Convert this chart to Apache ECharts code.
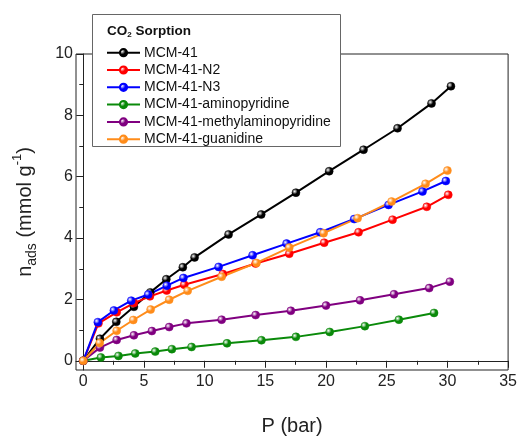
<!DOCTYPE html>
<html>
<head>
<meta charset="utf-8">
<script src="https://cdn.jsdelivr.net/npm/echarts@6/dist/echarts.min.js"></script>
<style>html,body{margin:0;padding:0;background:#fff}#c{width:520px;height:441px}</style>
</head>
<body>
<div id="c"></div>
<script>
var seriesNames = ['MCM-41', 'MCM-41-N2', 'MCM-41-N3', 'MCM-41-aminopyridine', 'MCM-41-methylaminopyridine', 'MCM-41-guanidine'];
var seriesColors = ['#000000', '#ff0000', '#0000ff', '#0a8a0a', '#800080', '#ff8c1a'];
var mcm41 = [[0,0],[1.37,0.72],[2.72,1.27],[4.17,1.76],[5.52,2.23],[6.84,2.66],[8.2,3.05],[9.17,3.37],[11.97,4.12],[14.66,4.77],[17.52,5.48],[20.26,6.18],[23.09,6.88],[25.89,7.58],[28.69,8.39],[30.29,8.95]];
var mcm41N2 = [[0,0],[1.25,1.22],[2.75,1.58],[4.17,1.88],[5.49,2.10],[6.87,2.29],[8.32,2.48],[11.5,2.83],[14.2,3.17],[16.97,3.49],[19.85,3.85],[22.68,4.19],[25.48,4.60],[28.3,5.02],[30.07,5.41]];
var mcm41N3 = [[0,0],[1.2,1.26],[2.52,1.64],[3.95,1.96],[5.35,2.16],[6.88,2.45],[8.25,2.70],[11.15,3.06],[13.95,3.44],[16.75,3.82],[19.52,4.19],[22.32,4.62],[25.15,5.08],[27.95,5.52],[29.87,5.86]];
var mcm41Amino = [[0,0],[1.45,0.11],[2.9,0.16],[4.28,0.24],[5.93,0.30],[7.3,0.38],[8.92,0.45],[11.84,0.57],[14.68,0.67],[17.52,0.78],[20.3,0.94],[23.2,1.13],[26.0,1.34],[28.9,1.56]];
var mcm41Methyl = [[0,0],[1.37,0.43],[2.75,0.68],[4.17,0.83],[5.65,0.97],[7.08,1.10],[8.5,1.22],[11.4,1.34],[14.2,1.49],[17.1,1.63],[20.0,1.80],[22.8,1.97],[25.6,2.17],[28.5,2.37],[30.2,2.58]];
var mcm41Guan = [[0,0],[1.35,0.58],[2.75,0.98],[4.12,1.33],[5.55,1.67],[7.08,1.99],[8.6,2.28],[11.4,2.74],[14.27,3.19],[16.97,3.69],[19.8,4.16],[22.6,4.65],[25.4,5.19],[28.2,5.77],[30.0,6.2]];
var seriesData = [mcm41, mcm41N2, mcm41N3, mcm41Amino, mcm41Methyl, mcm41Guan];
var xMajorTicks = [0,5,10,15,20,25,30,35];
var xMinorTicks = [2.5,7.5,12.5,17.5,22.5,27.5,32.5];
var yMajorTicks = [0,2,4,6,8,10];
var yMinorTicks = [1,3,5,7,9];

var FONT = 'Liberation Sans, Arial, sans-serif';
var AX = '#222';

function shade(c) {
  return {type:'radial', x:0.35, y:0.35, r:0.75, colorStops:[
    {offset:0, color:'#ffffff'}, {offset:0.45, color:c}, {offset:1, color:c}]};
}

var chart = echarts.init(document.getElementById('c'), null, {renderer:'canvas'});
var series = seriesNames.map(function(n, i){
  return {
    name:n, type:'line', data:seriesData[i], xAxisIndex:0, yAxisIndex:0,
    symbol:'circle', symbolSize:8, showSymbol:true,
    lineStyle:{color:seriesColors[i], width:2},
    itemStyle:{color:shade(seriesColors[i]), borderColor:seriesColors[i], borderWidth:0.5},
    emphasis:{disabled:true}
  };
});

chart.setOption({
  animation:false,
  backgroundColor:'#fff',
  grid:{left:76, right:11, top:54, bottom:67, show:true, borderColor:AX, borderWidth:1, backgroundColor:'transparent'},
  xAxis:[{
    type:'value', position:'bottom', min:-0.6, max:35,
    axisLine:{show:true, lineStyle:{color:AX, width:1}},
    axisTick:{show:true, inside:false, length:7, customValues:xMajorTicks, lineStyle:{color:AX}},
    axisLabel:{customValues:xMajorTicks, fontSize:16, color:AX, margin:4, fontFamily:FONT},
    splitLine:{show:false},
    name:'P (bar)', nameLocation:'middle', nameGap:46,
    nameTextStyle:{fontSize:20, color:AX, fontFamily:FONT}
  },{
    type:'value', position:'bottom', min:-0.6, max:35,
    axisLine:{show:false},
    axisTick:{show:true, inside:false, length:4, customValues:xMinorTicks, lineStyle:{color:AX}},
    axisLabel:{show:false}, splitLine:{show:false}
  }],
  yAxis:[{
    type:'value', position:'left', min:-0.3, max:10,
    axisLine:{show:true, lineStyle:{color:AX, width:1}},
    axisTick:{show:true, inside:false, length:7, customValues:yMajorTicks, lineStyle:{color:AX}},
    axisLabel:{customValues:yMajorTicks, fontSize:16, color:AX, margin:3, fontFamily:FONT},
    splitLine:{show:false},
    name:'n{s|ads} (mmol g{p|-1})', nameLocation:'middle', nameRotate:90, nameGap:37,
    nameTextStyle:{fontSize:20, color:AX, fontFamily:FONT, lineHeight:28,
      rich:{s:{fontSize:14, fontFamily:FONT, color:AX, verticalAlign:'bottom', lineHeight:14},
            p:{fontSize:13, fontFamily:FONT, color:AX, verticalAlign:'top', lineHeight:13}}}
  },{
    type:'value', position:'left', min:-0.3, max:10,
    axisLine:{show:false},
    axisTick:{show:true, inside:false, length:4, customValues:yMinorTicks, lineStyle:{color:AX}},
    axisLabel:{show:false}, splitLine:{show:false}
  }],
  legend:{
    data:seriesNames, orient:'vertical', left:106, top:45.7, padding:0,
    itemWidth:33, itemHeight:9, itemGap:3.3, z:20,
    textStyle:{fontSize:14, lineHeight:14, color:'#111', fontFamily:FONT, padding:[0,0,0,-1]},
    selectedMode:false
  },
  graphic:[
    {type:'rect', z:10, shape:{x:92.5, y:14.5, width:248, height:132}, style:{fill:'#fff', stroke:'#666', lineWidth:1}},
    {type:'text', z:11, x:107, y:23, style:{text:'CO{s|2} Sorption', fill:'#111', font:'bold 13.5px Liberation Sans, Arial, sans-serif', lineHeight:16,
      rich:{s:{fontSize:8, fontWeight:'bold', fontFamily:FONT, fill:'#111', verticalAlign:'bottom', lineHeight:8}}}}
  ],
  series:series
});
</script>
</body>
</html>
